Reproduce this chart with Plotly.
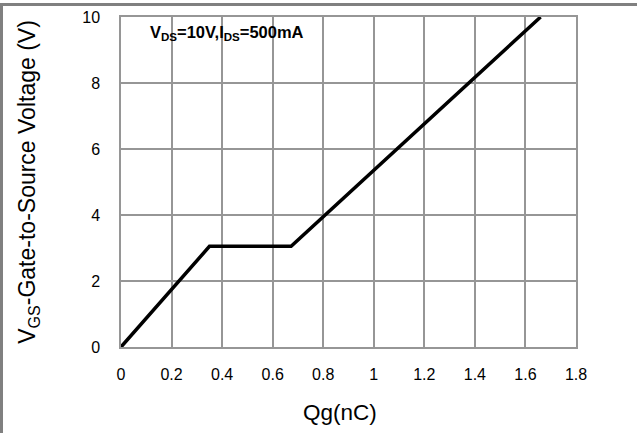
import plotly.graph_objects as go

qg_nc = [0, 0.35, 0.673, 1.66]
vgs_v = [0, 3.05, 3.05, 10]
x_ticks = [0, 0.2, 0.4, 0.6, 0.8, 1, 1.2, 1.4, 1.6, 1.8]
y_ticks = [0, 2, 4, 6, 8, 10]

W, H = 637, 433
L, R, T, B = 121, 61, 17, 86
pw, ph = W - L - R, H - T - B


def px_x(p):
    return (p - L) / pw


def px_y(p):
    return 1 + (T - p) / ph


fig = go.Figure()
fig.add_trace(go.Scatter(x=qg_nc, y=vgs_v, mode="lines",
                         line=dict(color="black", width=3.5), showlegend=False))

font = "Liberation Sans, Arial, sans-serif"
fig.update_layout(
    width=W, height=H,
    margin=dict(l=L, r=R, t=T, b=B, autoexpand=False),
    paper_bgcolor="white", plot_bgcolor="white",
    font=dict(family=font, color="black", size=16),
    xaxis=dict(range=[0, 1.8], tickvals=x_ticks, ticktext=[f"{v:g}" for v in x_ticks],
               showgrid=True, gridcolor="#969696", gridwidth=1.5,
               showline=True, linecolor="#969696", linewidth=1.5, mirror=True,
               zeroline=False, ticks="", tickfont=dict(size=16),
               ticklabelstandoff=12, automargin=False),
    yaxis=dict(range=[0, 10], tickvals=y_ticks,
               showgrid=True, gridcolor="#969696", gridwidth=1.5,
               showline=True, linecolor="#969696", linewidth=1.5, mirror=True,
               zeroline=False, ticks="", tickfont=dict(size=16),
               ticklabelstandoff=16, automargin=False,
               title=dict(text="V<sub>GS</sub>-Gate-to-Source Voltage (V)", font=dict(size=23), standoff=40)),
    annotations=[
        dict(x=0.105, y=9.52, xref="x", yref="y", xanchor="left", yanchor="middle",
             text="<b>V<sub>DS</sub>=10V,I<sub>DS</sub>=500mA</b>", showarrow=False,
             font=dict(size=16.5, family=font)),
        dict(x=px_x(340), y=px_y(412), xref="paper", yref="paper", xanchor="center", yanchor="middle",
             text="Qg(nC)", showarrow=False, font=dict(size=22.5, family=font)),
    ],
    shapes=[
        dict(type="line", xref="paper", yref="paper", layer="above",
             x0=px_x(0), x1=px_x(W), y0=px_y(4.5), y1=px_y(4.5),
             line=dict(color="#808080", width=3)),
        dict(type="line", xref="paper", yref="paper", layer="above",
             x0=px_x(1.5), x1=px_x(1.5), y0=px_y(3), y1=px_y(H),
             line=dict(color="#808080", width=3)),
    ],
)
fig.write_html("out.html", config={"displayModeBar": False},
               post_script="document.body.style.margin='0';document.body.style.overflow='hidden';")
